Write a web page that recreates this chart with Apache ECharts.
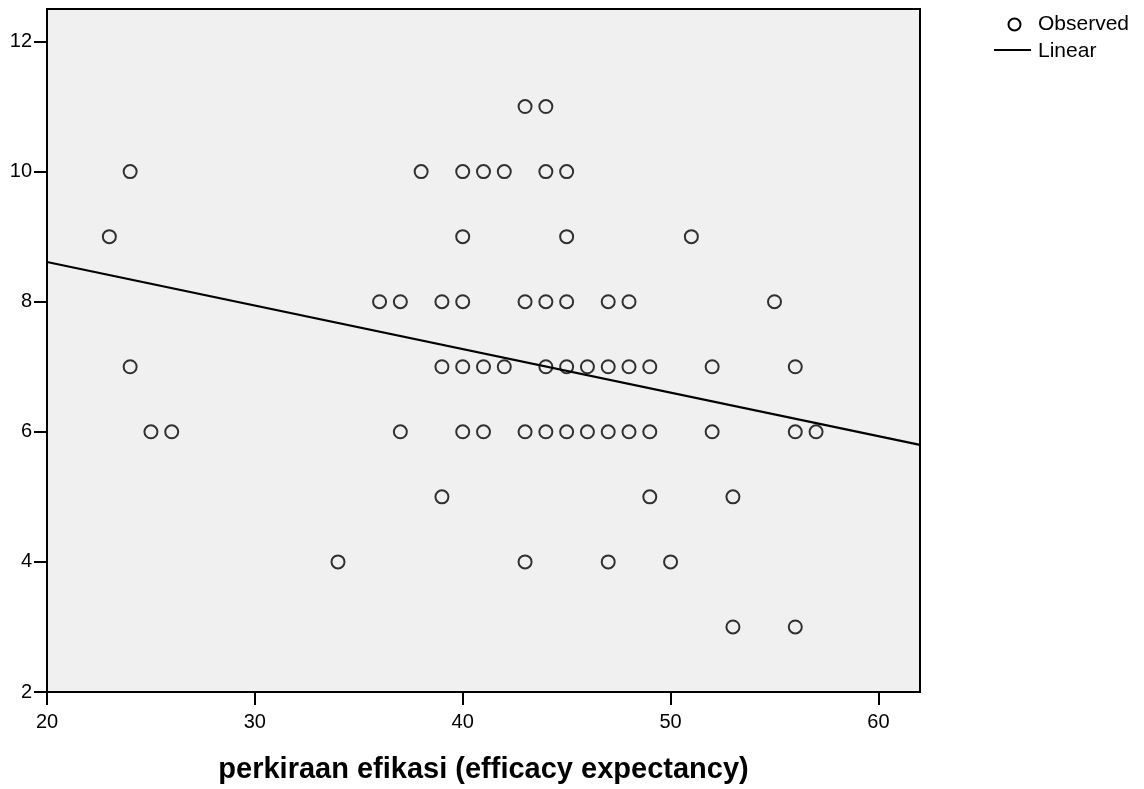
<!DOCTYPE html>
<html>
<head>
<meta charset="utf-8">
<script src="https://cdn.jsdelivr.net/npm/echarts@6/dist/echarts.min.js"></script>
<style>
html,body{margin:0;padding:0;background:#fff;}
#chart{width:1144px;height:789px;}
</style>
</head>
<body>
<div id="chart"></div>
<script>
// Observed points: efficacy expectancy (x) vs outcome (y)
const obsX = [43,44, 24,38,40,41,42,44,45, 23,40,45,51,
  36,37,39,40,43,44,45,47,48,55,
  24,39,40,41,42,44,45,46,47,48,49,52,56,
  25,26,37,40,41,43,44,45,46,47,48,49,52,56,57,
  39,49,53, 34,43,47,50, 53,56];
const obsY = [11,11, 10,10,10,10,10,10,10, 9,9,9,9,
  8,8,8,8,8,8,8,8,8,8,
  7,7,7,7,7,7,7,7,7,7,7,7,7,
  6,6,6,6,6,6,6,6,6,6,6,6,6,6,6,
  5,5,5, 4,4,4,4, 3,3];
// Linear fit endpoints
const lineX = [20, 62];
const lineY = [8.61, 5.80];
const xTicks = [20,30,40,50,60];
const yTicks = [2,4,6,8,10,12];
const xTitle = 'perkiraan efikasi (efficacy expectancy)';
const legendNames = ['Observed','Linear'];

const chart = echarts.init(document.getElementById('chart'));
const font = '"Liberation Sans", Arial, sans-serif';
const legendFont = '21px "Liberation Sans", Arial, sans-serif';
chart.setOption({
  animation:false,
  backgroundColor:'#fff',
  textStyle:{fontFamily:font},
  grid:{left:47,right:224,top:9,bottom:96,show:true,backgroundColor:'#f0f0f0',borderColor:'#000',borderWidth:2},
  graphic:[
    {type:'circle',left:1006,top:16,shape:{r:6},style:{fill:'none',stroke:'#000',lineWidth:2}},
    {type:'text',left:1038,top:14,style:{text:legendNames[0],fill:'#000',font:legendFont}},
    {type:'line',shape:{x1:994,y1:50,x2:1031,y2:50},style:{stroke:'#000',lineWidth:2.2}},
    {type:'text',left:1038,top:41,style:{text:legendNames[1],fill:'#000',font:legendFont}}
  ],
  xAxis:{
    type:'value', min:20, max:62, interval:10,
    name:xTitle, nameLocation:'middle', nameGap:63,
    nameTextStyle:{fontSize:29,fontWeight:'bold',color:'#000',fontFamily:font},
    axisLine:{onZero:false,lineStyle:{color:'#000',width:2}},
    axisTick:{show:true,length:13,inside:false,lineStyle:{color:'#000',width:2},customValues:xTicks},
    axisLabel:{fontSize:20,color:'#000',margin:20,customValues:xTicks},
    splitLine:{show:false}
  },
  yAxis:{
    type:'value', min:2, max:12.5, interval:2,
    axisLine:{onZero:false,lineStyle:{color:'#000',width:2}},
    axisTick:{show:true,length:13,inside:false,lineStyle:{color:'#000',width:2},customValues:yTicks},
    axisLabel:{fontSize:20,color:'#000',margin:15,customValues:yTicks},
    splitLine:{show:false}
  },
  series:[
    {name:'Observed',type:'scatter',symbol:'circle',symbolSize:13,
     itemStyle:{color:'rgba(0,0,0,0)',borderColor:'#000',borderWidth:2},
     data:obsX.map((x,i)=>[x,obsY[i]]),z:3},
    {name:'Linear',type:'line',symbol:'none',
     lineStyle:{color:'#000',width:2.2},
     data:lineX.map((x,i)=>[x,lineY[i]]),z:4}
  ]
});
</script>
</body>
</html>
